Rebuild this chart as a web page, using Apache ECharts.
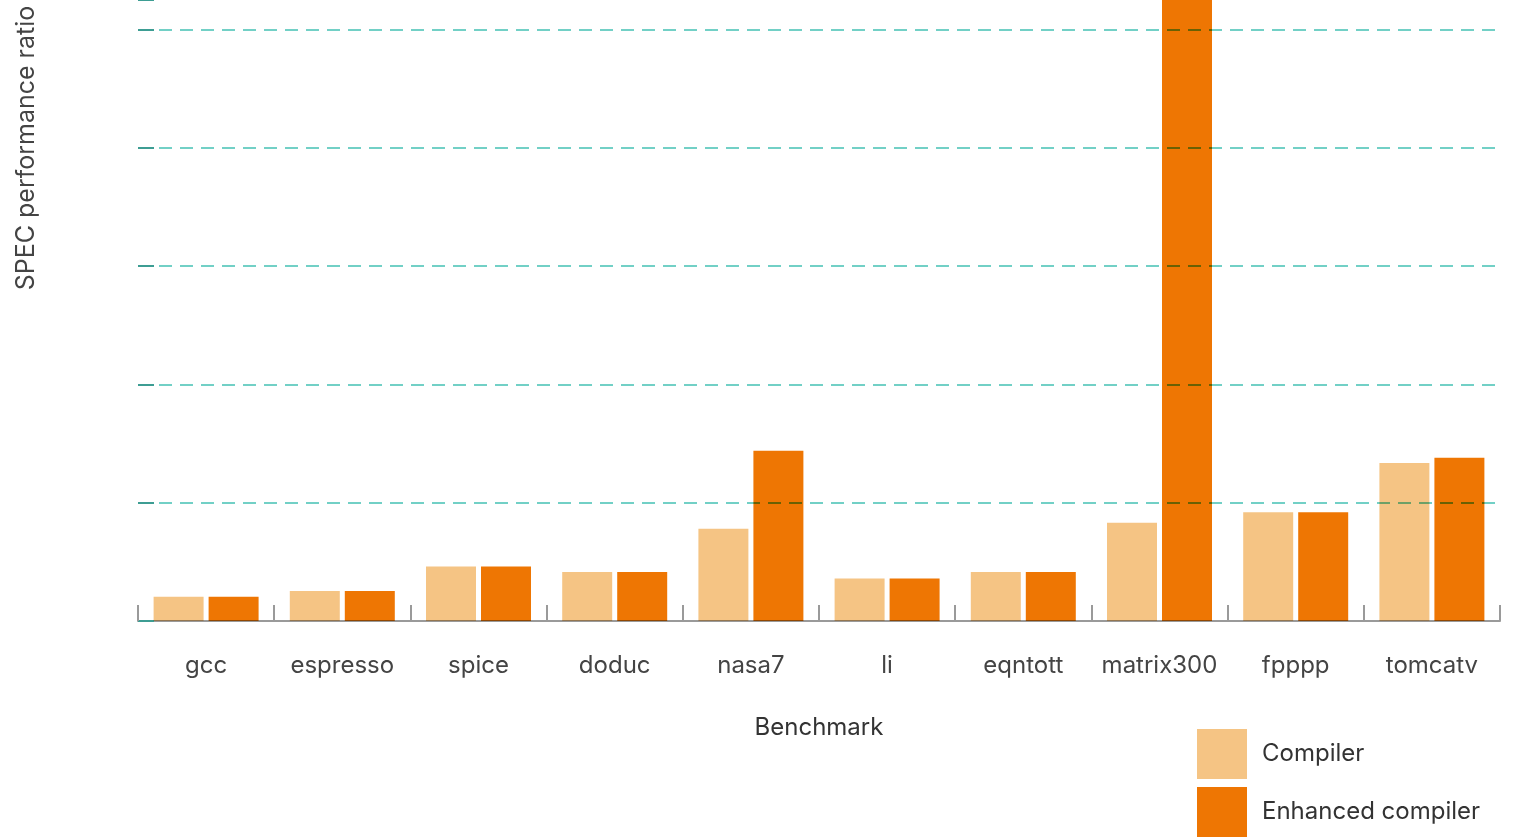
<!DOCTYPE html>
<html lang="en" style="height: 100%">
<head>
  <meta charset="utf-8">
</head>
<body style="height: 100%; margin: 0; background: #fff">
  <div id="container" style="width: 1519px; height: 837px"></div>
  <script src="https://cdn.jsdelivr.net/npm/echarts@6/dist/echarts.min.js"></script>
  <script>
    // benchmark names and SPEC ratios
    const benchmarks = ['gcc', 'espresso', 'spice', 'doduc', 'nasa7', 'li', 'eqntott', 'matrix300', 'fpppp', 'tomcatv'];
    const compiler = [20.6, 25.4, 46, 41.5, 78, 36, 41.5, 83, 92, 133.5];
    const enhanced = [20.6, 25.4, 46, 41.5, 144, 36, 41.5, 730, 92, 138];
    // the picture is cropped near 525, so the axis stops there
    const yTicks = { min: 0, max: 525, interval: 100 };

    const chart = echarts.init(document.getElementById('container'), null, { renderer: 'canvas' });
    const font = 'Inter, "DejaVu Sans", sans-serif';

    const option = {
      animation: false,
      textStyle: { fontFamily: font },
      grid: { left: 138, right: 19, top: 0, bottom: 216 },
      legend: {
        orient: 'vertical',
        left: 1197,
        top: 729,
        padding: 0,
        itemWidth: 50,
        itemHeight: 50,
        itemGap: 8,
        icon: 'rect',
        textStyle: { fontSize: 24, color: '#333', padding: [14, 0, 0, 10] },
        data: ['Compiler', 'Enhanced compiler']
      },
      xAxis: {
        type: 'category',
        data: benchmarks,
        name: 'Benchmark',
        nameLocation: 'middle',
        nameGap: 95,
        nameTextStyle: { fontSize: 24, color: '#333' },
        axisLine: { lineStyle: { color: '#9a9a9a', width: 2 } },
        axisTick: { show: true, interval: 0, inside: true, length: 16, lineStyle: { color: '#9a9a9a', width: 2 } },
        axisLabel: { interval: 0, fontSize: 24, color: '#444', margin: 33 }
      },
      yAxis: {
        type: 'value',
        min: yTicks.min,
        max: yTicks.max,
        interval: yTicks.interval,
        axisLine: { show: false },
        axisTick: { show: true, inside: true, length: 16, lineStyle: { color: '#3d9d93', width: 2 } },
        axisLabel: { show: false },
        splitLine: { showMaxLine: false, lineStyle: { color: '#72d0c6', width: 2, type: [13, 8] } }
      },
      graphic: [{
        type: 'text',
        x: 26,
        y: 148,
        rotation: Math.PI / 2,
        style: {
          text: 'SPEC performance ratio',
          font: '25px ' + font,
          fill: '#444',
          align: 'center',
          verticalAlign: 'middle'
        }
      }],
      series: [
        {
          name: 'Compiler',
          type: 'bar',
          data: compiler,
          barWidth: 50,
          barGap: '10%',
          blendMode: 'multiply',
          itemStyle: { color: '#f5c484' }
        },
        {
          name: 'Enhanced compiler',
          type: 'bar',
          data: enhanced,
          barWidth: 50,
          blendMode: 'multiply',
          itemStyle: { color: '#ee7603' }
        }
      ]
    };

    chart.setOption(option);
    window.addEventListener('resize', chart.resize);
  </script>
</body>
</html>
